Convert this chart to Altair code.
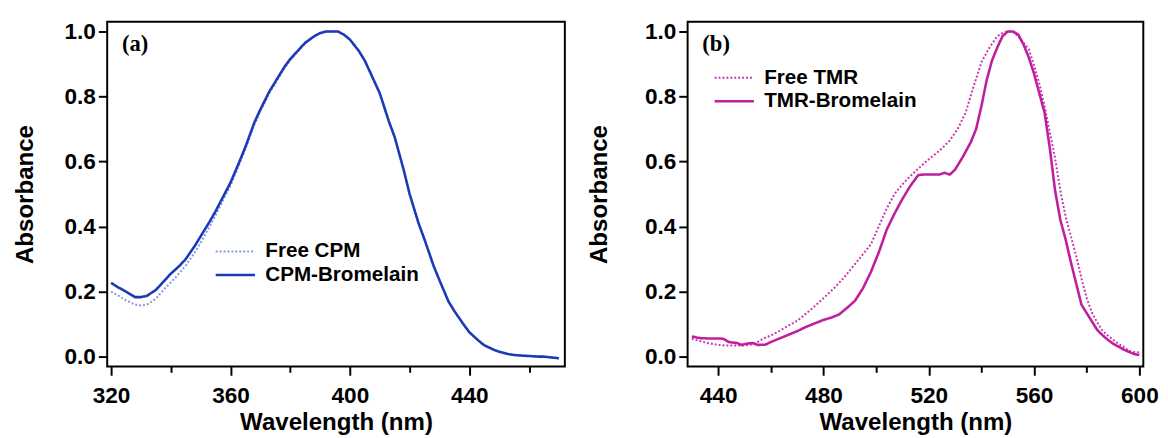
import altair as alt
import pandas as pd

# ---------------- Panel (a): CPM ----------------
cpm_nm = [320, 322, 325, 328, 330, 332, 335, 338, 340, 343, 345, 348, 350, 353, 355, 358,
          360, 363, 365, 368, 370, 373, 375, 378, 380, 383, 385, 388, 390, 392, 394, 396,
          398, 400, 403, 405, 408, 410, 413, 415, 418, 420, 423, 425, 428, 430, 433, 435,
          438, 440, 443, 445, 448, 450, 453, 455, 458, 460, 463, 465, 468, 470]
cpm_bromelain = [0.227, 0.215, 0.200, 0.183, 0.183, 0.187, 0.205, 0.235, 0.255, 0.280, 0.300,
                 0.340, 0.370, 0.415, 0.447, 0.500, 0.535, 0.600, 0.645, 0.720, 0.760, 0.815,
                 0.845, 0.890, 0.915, 0.945, 0.965, 0.985, 0.995, 1.000, 1.000, 1.000, 0.990,
                 0.975, 0.940, 0.910, 0.850, 0.810, 0.725, 0.675, 0.575, 0.500, 0.410, 0.360,
                 0.280, 0.235, 0.170, 0.140, 0.100, 0.075, 0.050, 0.035, 0.022, 0.015, 0.008,
                 0.005, 0.003, 0.002, 0.000, 0.000, -0.003, -0.005]
cpm_free = [0.200, 0.190, 0.173, 0.160, 0.157, 0.160, 0.178, 0.210, 0.228, 0.258, 0.280,
            0.320, 0.350, 0.400, 0.435, 0.490, 0.525, 0.592, 0.638, 0.713, 0.754, 0.810,
            0.840, 0.886, 0.912, 0.943, 0.963, 0.984, 0.995, 1.000, 1.000, 1.000, 0.990,
            0.975, 0.940, 0.910, 0.850, 0.810, 0.725, 0.675, 0.575, 0.500, 0.410, 0.360,
            0.280, 0.235, 0.170, 0.140, 0.100, 0.075, 0.050, 0.035, 0.022, 0.015, 0.008,
            0.005, 0.003, 0.002, 0.000, 0.000, -0.003, -0.005]
cpm_series = ["Free CPM", "CPM-Bromelain"]
cpm_colors = ["#7f9ae0", "#1c3ab8"]
cpm_ticks = [320, 340, 360, 380, 400, 420, 440, 460]

# ---------------- Panel (b): TMR ----------------
tmr_b_nm = [430, 433, 436, 440, 442, 444, 447, 449, 451, 453, 455, 458, 460, 463, 466, 470,
            473, 476, 480, 483, 486, 489, 492, 495, 498, 501, 504, 507, 510, 513, 516, 518,
            521, 524, 526, 528, 530, 533, 536, 538, 540, 542, 544, 546, 548, 550, 552, 554,
            556, 558, 560, 562, 564, 566, 568, 570, 572, 574, 576, 578, 580, 582, 584, 586,
            588, 590, 592, 594, 596, 598, 600]
tmr_bromelain = [0.062, 0.057, 0.056, 0.056, 0.055, 0.045, 0.042, 0.036, 0.040, 0.042, 0.036,
                 0.037, 0.045, 0.055, 0.065, 0.078, 0.090, 0.100, 0.113, 0.120, 0.130, 0.150,
                 0.172, 0.210, 0.260, 0.320, 0.390, 0.440, 0.485, 0.525, 0.558, 0.560, 0.560,
                 0.560, 0.565, 0.560, 0.575, 0.615, 0.660, 0.700, 0.770, 0.850, 0.910, 0.950,
                 0.985, 1.000, 1.000, 0.990, 0.960, 0.920, 0.870, 0.810, 0.750, 0.640, 0.510,
                 0.420, 0.360, 0.290, 0.225, 0.160, 0.134, 0.108, 0.082, 0.066, 0.052, 0.040,
                 0.031, 0.022, 0.015, 0.008, 0.005]
tmr_f_nm = [430, 433, 436, 440, 443, 446, 450, 453, 455, 457, 460, 463, 466, 470, 473, 476,
            480, 484, 488, 492, 495, 498, 501, 504, 507, 510, 513, 516, 519, 522, 525, 528,
            531, 534, 537, 540, 543, 546, 548, 550, 552, 554, 556, 558, 560, 562, 564, 566,
            568, 570, 572, 574, 576, 578, 580, 582, 584, 586, 588, 590, 592, 594, 596, 598, 600]
tmr_free = [0.055, 0.048, 0.042, 0.036, 0.034, 0.034, 0.034, 0.038, 0.045, 0.055, 0.065,
            0.078, 0.092, 0.110, 0.130, 0.150, 0.180, 0.210, 0.245, 0.285, 0.315, 0.345,
            0.400, 0.455, 0.500, 0.530, 0.555, 0.578, 0.600, 0.620, 0.640, 0.665, 0.700,
            0.750, 0.830, 0.905, 0.950, 0.985, 0.995, 1.000, 0.998, 0.985, 0.965, 0.945,
            0.895, 0.840, 0.770, 0.690, 0.610, 0.510, 0.430, 0.370, 0.310, 0.240, 0.180,
            0.135, 0.105, 0.080, 0.065, 0.052, 0.040, 0.030, 0.018, 0.014, 0.013]
tmr_series = ["Free TMR", "TMR-Bromelain"]
tmr_colors = ["#cc33b4", "#bf1f9e"]
tmr_ticks = [440, 460, 480, 500, 520, 540, 560, 580, 600]

y_ticks = [0.0, 0.2, 0.4, 0.6, 0.8, 1.0]

SANS = "Liberation Sans"
SERIF = "Liberation Serif"


def make_df(free_nm, free_vals, brom_nm, brom_vals, series):
    rows = []
    for n, v in zip(free_nm, free_vals):
        rows.append({"nm": n, "abs": v, "series": series[0]})
    for n, v in zip(brom_nm, brom_vals):
        rows.append({"nm": n, "abs": v, "series": series[1]})
    return pd.DataFrame(rows)


def panel(df, series, colors, xdomain, xticks, tag, lx, ly, title_x):
    x_axis = alt.Axis(
        values=xticks,
        labelExpr="datum.value % 40 === 0 ? datum.label : ''",
        tickSize={"condition": {"test": "datum.value % 40 === 0", "value": 9}, "value": 6},
        tickWidth=2, tickColor="black", domain=False, grid=False,
        labelFont=SANS, labelFontSize=23, labelFontWeight="bold", labelColor="black",
        labelPadding=10,
        title="Wavelength (nm)", titleFont=SANS, titleFontSize=24.5, titleFontWeight="bold",
        titleColor="black", titlePadding=3,
    )
    y_axis = alt.Axis(
        values=y_ticks, format=".1f",
        tickSize=9, tickWidth=2, tickColor="black", domain=False, grid=False,
        labelFont=SANS, labelFontSize=23, labelFontWeight="bold", labelColor="black",
        labelPadding=3,
        title="Absorbance", titleFont=SANS, titleFontSize=24.5, titleFontWeight="bold",
        titleColor="black", titleX=title_x, titleBaseline="middle",
    )
    legend = alt.Legend(
        title=None, orient="none", legendX=lx, legendY=ly,
        symbolType="stroke", symbolSize=1600, symbolStrokeWidth=2.5,
        clipHeight=24, rowPadding=0, labelOffset=9, padding=0,
        labelFont=SANS, labelFontSize=21, labelFontWeight="bold", labelColor="black",
    )
    return alt.Chart(df, title=alt.TitleParams(
        tag, anchor="start", frame="group", font=SERIF, fontSize=23, fontWeight="bold",
        color="black", baseline="top", dx=15, dy=36, offset=0,
    )).mark_line(interpolate="linear").encode(
        x=alt.X("nm:Q", scale=alt.Scale(domain=xdomain, nice=False, zero=False), axis=x_axis),
        y=alt.Y("abs:Q", scale=alt.Scale(domain=[-0.03, 1.03], nice=False, zero=False), axis=y_axis),
        color=alt.Color("series:N", scale=alt.Scale(domain=series, range=colors), legend=legend),
        strokeDash=alt.StrokeDash("series:N", scale=alt.Scale(domain=series, range=[[2, 2], [1, 0]])),
        strokeWidth=alt.StrokeWidth("series:N", scale=alt.Scale(domain=series, range=[2, 2.6])),
        order=alt.Order("series:N"),
    ).properties(width=466, height=351)


df_a = make_df(cpm_nm, cpm_free, cpm_nm, cpm_bromelain, cpm_series)
df_b = make_df(tmr_f_nm, tmr_free, tmr_b_nm, tmr_bromelain, tmr_series)

pa = panel(df_a, cpm_series, cpm_colors, [318.7, 472], cpm_ticks, "(a)", 109, 222, -83)
pb = panel(df_b, tmr_series, tmr_colors, [428.4, 601.5], tmr_ticks, "(b)", 26, 45, -90).properties(width=464)

chart = alt.hconcat(pa, pb, spacing=20).resolve_scale(
    color="independent", strokeDash="independent", strokeWidth="independent"
).configure_view(stroke="black", strokeWidth=2).properties(
    padding={"left": 4, "top": 7, "right": 0, "bottom": 0}
)

chart.save("out.html", embed_options={"renderer": "svg", "actions": False})
